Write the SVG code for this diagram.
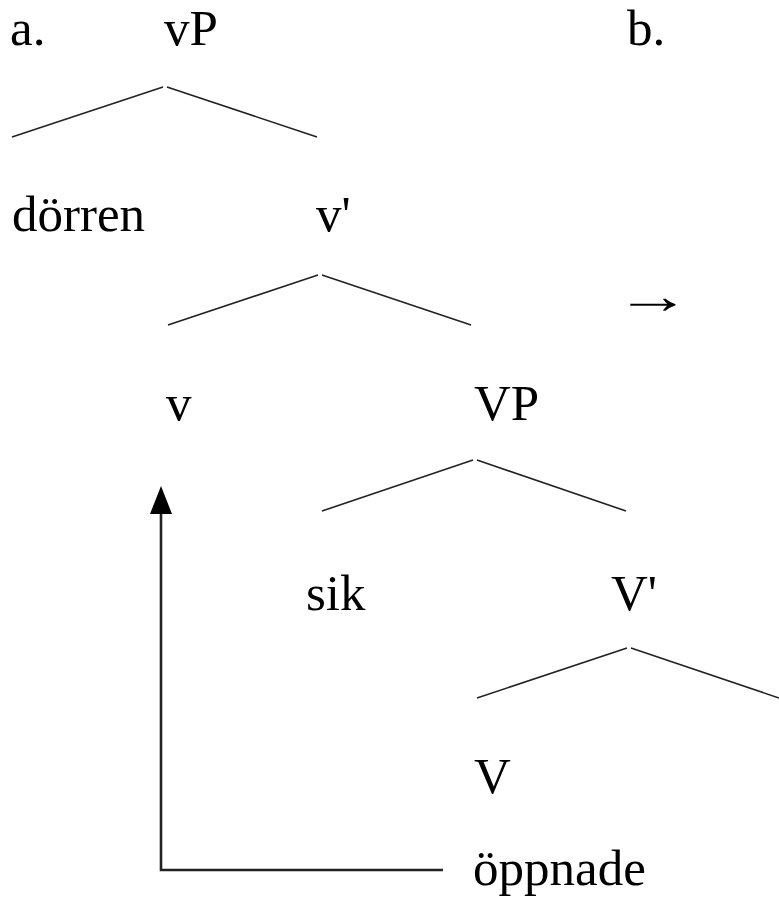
<svg xmlns="http://www.w3.org/2000/svg" width="779" height="900" viewBox="0 0 779 900">
<style>
.t{font-family:'Liberation Serif','Times New Roman',Times,serif;font-size:51px;fill:#000}
.br{stroke:#222;stroke-width:1.6;fill:none}
.mv{stroke:#222;stroke-width:2.6;fill:none}
</style>
<rect width="779" height="900" fill="#fff"/>
<g font-family="Liberation Serif, serif" font-size="51">
<g id="label-a"><text class="t" x="10" y="45">a.</text></g>
<g id="label-b"><text class="t" x="627" y="45">b.</text></g>
<g id="vP"><text class="t" x="164" y="45">vP</text></g>
<g id="dorren"><text class="t" x="12" y="231">dörren</text></g>
<g id="vbar"><text class="t" x="316" y="231">v'</text></g>
<g id="arrow-b"><text class="t" x="0" y="0" transform="translate(615,313) scale(1.5,1)">→</text></g>
<g id="v"><text class="t" x="166" y="420">v</text></g>
<g id="VP"><text class="t" x="474" y="420">VP</text></g>
<g id="sik"><text class="t" x="306" y="610">sik</text></g>
<g id="Vbar"><text class="t" x="611" y="610">V'</text></g>
<g id="V"><text class="t" x="474" y="793">V</text></g>
<g id="oppnade"><text class="t" x="473" y="885">öppnade</text></g>
</g>
<g id="connectors">
<path class="br" d="M12,137 L163,87 M167,87 L317,137"/>
<path class="br" d="M168,325 L318,275 M322,275 L471,325"/>
<path class="br" d="M322,511 L473,460 M477,460 L626,511"/>
<path class="br" d="M477,698 L627,648 M631,648 L779,698"/>
<path class="mv" d="M443,870 L161,870 L161,512"/>
<polygon points="161,486 150,514 172,514" fill="#000"/>
</g>
</svg>
